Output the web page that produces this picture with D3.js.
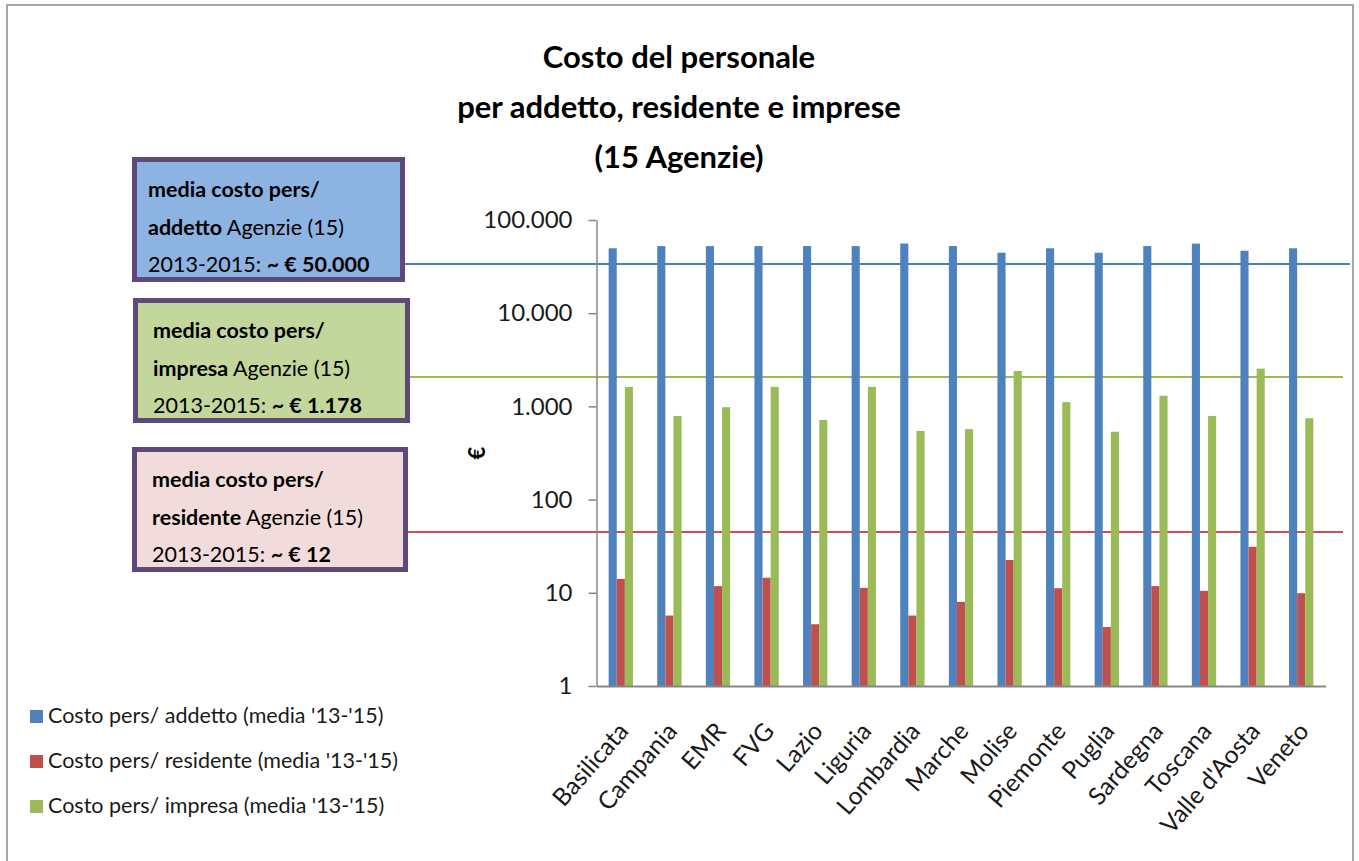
<!DOCTYPE html>
<html>
<head>
<meta charset="utf-8">
<script src="https://cdn.jsdelivr.net/npm/d3@7"></script>
<style>
  html, body { margin: 0; padding: 0; background: #fff; }
  svg { display: block; font-family: Lato, "Open Sans", sans-serif; }
</style>
</head>
<body>
<svg id="chart" width="1359" height="861"></svg>
<script>
// ---- data ----
const regions = ["Basilicata", "Campania", "EMR", "FVG", "Lazio", "Liguria", "Lombardia",
  "Marche", "Molise", "Piemonte", "Puglia", "Sardegna", "Toscana", "Valle d'Aosta", "Veneto"];

// average personnel cost 2013-2015, in euro
const costoAddetto   = [49700, 52500, 52500, 52500, 52500, 52500, 56000, 52500, 44600, 49700, 44600, 52500, 55800, 46800, 49700];
const costoResidente = [14.1, 5.7, 11.8, 14.5, 4.6, 11.3, 5.7, 8.0, 22.5, 11.2, 4.3, 11.8, 10.5, 31.2, 9.9];
const costoImpresa   = [1620, 790, 980, 1620, 715, 1620, 545, 570, 2400, 1110, 535, 1300, 790, 2540, 745];

const seriesNames = [
  "Costo pers/ addetto (media '13-'15)",
  "Costo pers/ residente (media '13-'15)",
  "Costo pers/ impresa (media '13-'15)"
];
const yTicks = [1, 10, 100, 1000, 10000, 100000];
const titleLines = ["Costo del personale", "per addetto, residente e imprese", "(15 Agenzie)"];
const axisLabel = "€";

// callout boxes: text lines made of [text, bold] runs, and the level where each connector crosses the plot
const calloutTexts = [
  [[["media costo pers/", true]], [["addetto", true], [" Agenzie (15)", false]], [["2013-2015: ", false], ["~ € 50.000", true]]],
  [[["media costo pers/", true]], [["impresa", true], [" Agenzie (15)", false]], [["2013-2015: ", false], ["~ € 1.178", true]]],
  [[["media costo pers/", true]], [["residente", true], [" Agenzie (15)", false]], [["2013-2015: ", false], ["~ € 12", true]]]
];
const calloutLevels = [33700, 2070, 45];

// ---- styling ----
const seriesColors = ["#4f81bd", "#c0504d", "#9bbb59"];
const boxFills = ["#8db3e2", "#c3d69b", "#f2dcdb"];
const lineColors = ["#4a7ebb", "#9bbb59", "#c9504f"];
const boxBorder = "#5f497a";

const svg = d3.select("#chart");

// outer frame
svg.append("rect")
  .attr("x", 7).attr("y", 5).attr("width", 1346).attr("height", 900)
  .attr("fill", "none").attr("stroke", "#a6a6a6").attr("stroke-width", 2);

// ---- scales ----
const plot = { left: 596.5, right: 1325.5, top: 220, bottom: 686 };
const x0 = d3.scaleBand().domain(regions).range([plot.left, plot.right]).padding(0);
const x1 = d3.scaleBand().domain(d3.range(3))
  .range([x0.bandwidth() * 0.25, x0.bandwidth() * 0.75]).padding(0);
const y = d3.scaleLog().domain([1, 100000]).range([plot.bottom, plot.top]);

const itFormat = d3.formatLocale({ decimal: ",", thousands: ".", grouping: [3], currency: ["€", ""] }).format(",d");

// ---- title ----
svg.append("g").selectAll("text").data(titleLines).join("text")
  .attr("x", 679).attr("y", (d, i) => 68 + i * 50)
  .attr("text-anchor", "middle")
  .attr("font-size", 31).attr("font-weight", 700).attr("fill", "#000")
  .text(d => d);

// ---- connector lines from the callouts ----
const lineSpans = [[405, 1350], [410, 1343], [408, 1343]];
svg.append("g").selectAll("line").data(calloutLevels).join("line")
  .attr("x1", (d, i) => lineSpans[i][0]).attr("x2", (d, i) => lineSpans[i][1])
  .attr("y1", d => y(d)).attr("y2", d => y(d))
  .attr("stroke", (d, i) => lineColors[i]).attr("stroke-width", 2);

// ---- bars ----
const seriesData = [costoAddetto, costoResidente, costoImpresa];
const groups = svg.append("g").selectAll("g").data(regions).join("g")
  .attr("transform", d => `translate(${x0(d)},0)`);
groups.selectAll("rect")
  .data((d, i) => seriesData.map((s, k) => ({ k, v: s[i] })))
  .join("rect")
  .attr("x", d => x1(d.k))
  .attr("width", x1.bandwidth())
  .attr("y", d => y(d.v))
  .attr("height", d => y(1) - y(d.v))
  .attr("fill", d => seriesColors[d.k]);

// ---- axes ----
const yAxis = svg.append("g")
  .attr("transform", `translate(${plot.left},0)`)
  .call(d3.axisLeft(y).tickValues(yTicks).tickFormat(itFormat).tickSize(8).tickSizeOuter(0).tickPadding(16));
yAxis.select(".domain").attr("stroke", "#868686").attr("stroke-width", 1.5);
yAxis.selectAll(".tick line").attr("stroke", "#868686").attr("stroke-width", 1.5);
yAxis.selectAll(".tick text").attr("font-size", 24).attr("fill", "#1a1a1a").attr("font-family", "Lato, sans-serif");

const xAxis = svg.append("g")
  .attr("transform", `translate(0,${plot.bottom})`)
  .call(d3.axisBottom(x0).tickSize(0).tickSizeOuter(0));
xAxis.select(".domain").attr("stroke", "#868686").attr("stroke-width", 2);
xAxis.selectAll(".tick text")
  .attr("x", 0).attr("y", 0).attr("dy", null)
  .attr("text-anchor", "end")
  .attr("transform", "translate(9,46) rotate(-49)")
  .attr("font-size", 24.5).attr("fill", "#1a1a1a").attr("font-family", "Lato, sans-serif");

// axis title
svg.append("text")
  .attr("transform", "translate(476,453) rotate(-90)")
  .attr("text-anchor", "middle").attr("dominant-baseline", "central")
  .attr("font-size", 22).attr("font-weight", 700).attr("fill", "#000")
  .text(axisLabel);

// ---- callout boxes ----
const boxes = [
  { x: 132, y: 157, w: 273, h: 125 },
  { x: 133, y: 298, w: 277, h: 125 },
  { x: 132, y: 447, w: 276, h: 125 }
];
const bw = 5;
boxes.forEach((b, i) => {
  svg.append("rect")
    .attr("x", b.x + bw / 2).attr("y", b.y + bw / 2)
    .attr("width", b.w - bw).attr("height", b.h - bw)
    .attr("fill", boxFills[i]).attr("stroke", boxBorder).attr("stroke-width", bw);
  const t = svg.append("text").attr("font-size", 21.5).attr("fill", "#000");
  calloutTexts[i].forEach((line, li) => {
    line.forEach((run, ri) => {
      const ts = t.append("tspan")
        .attr("font-weight", run[1] ? 700 : 400)
        .style("white-space", "pre")
        .text(run[0]);
      if (ri === 0) ts.attr("x", b.x + (i === 0 ? 16 : 20)).attr("y", b.y + 40 + li * 37.5);
    });
  });
});

// ---- legend ----
const legend = svg.append("g").selectAll("g").data(seriesNames).join("g")
  .attr("transform", (d, i) => `translate(30,${710 + i * 45})`);
legend.append("rect").attr("width", 13).attr("height", 13).attr("fill", (d, i) => seriesColors[i]);
legend.append("text")
  .attr("x", 18).attr("y", 13)
  .attr("font-size", 21.5).attr("fill", "#1a1a1a")
  .text(d => d);
</script>
</body>
</html>
